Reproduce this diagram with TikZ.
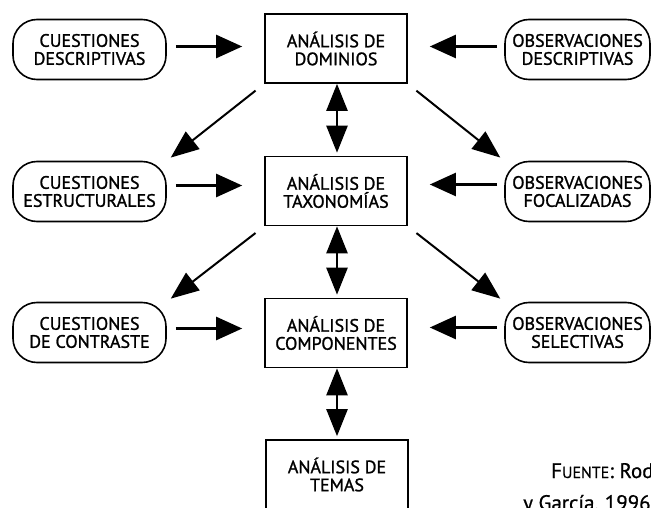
\documentclass[tikz,border=0pt]{standalone}
\usepackage{fontspec}
\setmainfont{PT Sans}[FakeBold=1.3]
\newfontfamily\srcface{PT Sans}[FakeBold=0.8]
\usetikzlibrary{arrows.meta,calc}
\tikzset{
  lbl/.style={font=\fontsize{18}{18}\selectfont},
  anbox/.style={lbl,draw,line width=1.6pt,minimum width=142pt,minimum height=69pt,align=center,inner sep=2pt},
  qbox/.style={lbl,draw,line width=1.6pt,rounded corners=24pt,minimum width=153pt,minimum height=60pt,align=center,inner sep=2pt},
  obox/.style={qbox,minimum width=145pt},
  harrow/.style={line width=2.4pt,-{Triangle[length=26pt,width=23pt]}},
  darrow/.style={line width=2.4pt,{Triangle[length=27pt,width=21pt]}-{Triangle[length=27pt,width=21pt]}},
  diag/.style={line width=2pt,-{Triangle[length=28pt,width=22pt]}},
  srcfont/.style={font=\srcface\fontsize{21}{24}\selectfont}
}
\begin{document}
\begin{tikzpicture}[x=1pt,y=-1pt]
\useasboundingbox (0,0) rectangle (651,508);
\clip (0,0) rectangle (651,508);
% central boxes
\node[anbox] (d) at (336,48.5) {ANÁLISIS DE\\DOMINIOS};
\node[anbox] (t) at (336,191) {ANÁLISIS DE\\TAXONOMÍAS};
\node[anbox] (c) at (336,333) {ANÁLISIS DE\\COMPONENTES};
\node[anbox] (m) at (337,474.5) {ANÁLISIS DE\\TEMAS};
% left boxes
\node[qbox] (cd) at (89.5,49.5) {CUESTIONES\\DESCRIPTIVAS};
\node[qbox] (ce) at (89.5,191.5) {CUESTIONES\\ESTRUCTURALES};
\node[qbox] (cc) at (89.5,332.5) {CUESTIONES\\DE CONTRASTE};
% right boxes
\node[obox] (od) at (577.5,49.5) {OBSERVACIONES\\DESCRIPTIVAS};
\node[obox] (of) at (577.5,191.5) {OBSERVACIONES\\FOCALIZADAS};
\node[obox] (os) at (577.5,332.5) {OBSERVACIONES\\SELECTIVAS};
% horizontal arrows
\draw[harrow,shorten <=9pt,shorten >=22pt] ($(cd.east)+(0,-3)$) -- ($(cd.east -| d.west)+(0,-3)$);
\draw[harrow,shorten <=9pt,shorten >=22pt] ($(ce.east)+(0,-6)$) -- ($(ce.east -| t.west)+(0,-6)$);
\draw[harrow,shorten <=9pt,shorten >=22pt] ($(cc.east)+(0,-4)$) -- ($(cc.east -| c.west)+(0,-4)$);
\draw[harrow,shorten <=7pt,shorten >=22pt] ($(od.west)+(0,-3)$) -- ($(od.west -| d.east)+(0,-3)$);
\draw[harrow,shorten <=7pt,shorten >=22pt] ($(of.west)+(0,-7)$) -- ($(of.west -| t.east)+(0,-7)$);
\draw[harrow,shorten <=7pt,shorten >=22pt] ($(os.west)+(0,-5)$) -- ($(os.west -| c.east)+(0,-5)$);
% vertical double arrows
\draw[darrow,shorten >=3pt] ($(d.south)+(1,0)$) -- ($(t.north)+(1,0)$);
\draw[darrow,shorten >=3pt] ($(t.south)+(1,0)$) -- ($(c.north)+(1,0)$);
\draw[darrow,shorten >=3pt] ($(c.south)+(1,0)$) -- ($(m.north)+(0,0)$);
% diagonal arrows
\draw[diag,shorten <=11pt,shorten >=5pt] (d.south west) -- (ce.north east);
\draw[diag,shorten <=11pt,shorten >=5pt] (d.south east) -- (of.north west);
\draw[diag,shorten <=11pt,shorten >=5pt] (t.south west) -- (cc.north east);
\draw[diag,shorten <=11pt,shorten >=5pt] (t.south east) -- (os.north west);
% source
\node[srcfont,anchor=base west,inner sep=0pt] (src1) at (551,478) {F{\fontsize{16}{18}\selectfont UENTE}: Rodríguez, Gil};
\node[srcfont,anchor=base west,inner sep=0pt] (src2) at (523,510) {y García, 1996};
\end{tikzpicture}
\end{document}
